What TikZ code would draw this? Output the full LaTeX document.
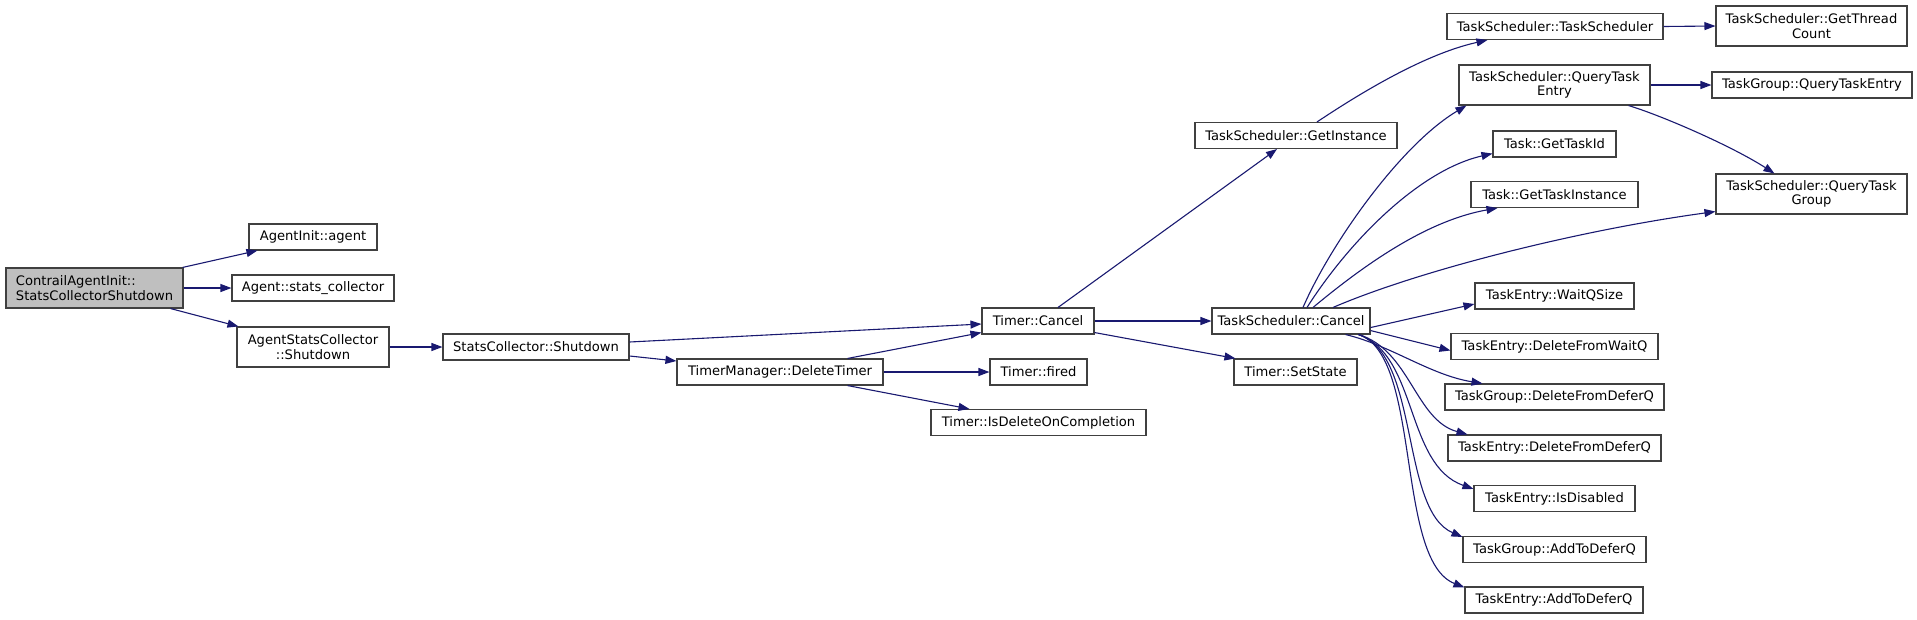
\documentclass[tikz,border=0pt]{standalone}
\usepackage{fontspec}
\setmainfont{DejaVu Sans}
\usetikzlibrary{arrows.meta}
\definecolor{edgeblue}{HTML}{191970}
\definecolor{boxline}{HTML}{404040}
\definecolor{rootfill}{HTML}{BFBFBF}
\tikzset{
  fn/.style={draw=boxline, line width=1.1pt, fill=white, inner sep=0pt, minimum height=26pt,
    font=\fontsize{13.1}{14.5}\selectfont, align=center},
  fn2/.style={fn, minimum height=40pt},
  call/.style={draw=edgeblue, line width=1.1pt, -{Triangle[length=11pt,width=8pt]}}
}
\begin{document}
\begin{tikzpicture}[x=1pt,y=-1pt]
\useasboundingbox (0,0) rectangle (1917,619);
% nodes
\node[fn2, fill=rootfill, minimum width=177pt, align=left] (root) at (94.5,288) {ContrailAgentInit::\\StatsCollectorShutdown};
\node[fn, minimum width=128pt] (agent) at (313,237) {AgentInit::agent};
\node[fn, minimum width=162pt] (statscol) at (313,288) {Agent::stats\_collector};
\node[fn2, minimum width=152pt] (ascshut) at (313,347) {AgentStatsCollector\\::Shutdown};
\node[fn, minimum width=186pt] (scshut) at (536,347) {StatsCollector::Shutdown};
\node[fn, minimum width=206pt] (delt) at (780,372) {TimerManager::DeleteTimer};
\node[fn, minimum width=112pt] (tcancel) at (1038,321) {Timer::Cancel};
\node[fn, minimum width=97pt] (fired) at (1038.5,372) {Timer::fired};
\node[fn, minimum width=215pt] (isdel) at (1038.5,422.5) {Timer::IsDeleteOnCompletion};
\node[fn, minimum width=202pt] (getinst) at (1296,135.5) {TaskScheduler::GetInstance};
\node[fn, minimum width=158pt] (tscancel) at (1291,321) {TaskScheduler::Cancel};
\node[fn, minimum width=123pt] (setstate) at (1295.5,372) {Timer::SetState};
\node[fn, minimum width=216pt] (tsts) at (1555,26.5) {TaskScheduler::TaskScheduler};
\node[fn2, minimum width=191pt] (gtc) at (1811.5,26) {TaskScheduler::GetThread\\Count};
\node[fn2, minimum width=191pt] (qte) at (1554.5,85) {TaskScheduler::QueryTask\\Entry};
\node[fn, minimum width=200pt] (tgqte) at (1812,85) {TaskGroup::QueryTaskEntry};
\node[fn, minimum width=123pt] (gtid) at (1554.5,144) {Task::GetTaskId};
\node[fn, minimum width=167pt] (gtinst) at (1554.5,194.5) {Task::GetTaskInstance};
\node[fn2, minimum width=191pt] (qtg) at (1811.5,194) {TaskScheduler::QueryTask\\Group};
\node[fn, minimum width=159pt] (wqs) at (1554.5,296) {TaskEntry::WaitQSize};
\node[fn, minimum width=207pt] (dfwq) at (1554.5,346.5) {TaskEntry::DeleteFromWaitQ};
\node[fn, minimum width=219pt] (tgdfd) at (1554.5,397) {TaskGroup::DeleteFromDeferQ};
\node[fn, minimum width=213pt] (tedfd) at (1554.5,448) {TaskEntry::DeleteFromDeferQ};
\node[fn, minimum width=161pt] (isdis) at (1554.5,498.5) {TaskEntry::IsDisabled};
\node[fn, minimum width=183pt] (tgadd) at (1554.5,549.5) {TaskGroup::AddToDeferQ};
\node[fn, minimum width=178pt] (teadd) at (1554,600) {TaskEntry::AddToDeferQ};
% edges
\draw[call] ([xshift=-1pt]root.north east) -- ([xshift=9pt]agent.south west);
\draw[call] (root.east) -- (statscol.west);
\draw[call] ([xshift=-13pt]root.south east) -- ([xshift=2pt]ascshut.north west);
\draw[call] (ascshut.east) -- (scshut.west);
\draw[call] ([yshift=5pt]scshut.east) -- ([yshift=-3pt]tcancel.west);
\draw[call] ([yshift=-9pt]scshut.east) -- ([yshift=11pt]delt.west);
\draw[call] ([xshift=-36pt]delt.north east) -- ([yshift=2pt]tcancel.south west);
\draw[call] (delt.east) -- (fired.west);
\draw[call] ([xshift=-36pt]delt.south east) -- ([xshift=39pt]isdel.north west);
\draw[call] ([xshift=20pt]tcancel.north) -- ([xshift=-19pt]getinst.south);
\draw[call] (tcancel.east) -- (tscancel.west);
\draw[call] ([yshift=2pt]tcancel.south east) -- ([xshift=2pt]setstate.north west);
\draw[call] ([xshift=21pt]getinst.north) .. controls (1350,100) and (1420,55) .. ([xshift=41pt]tsts.south west);
\draw[call] (tsts.east) -- (gtc.west);
\draw[call] (qte.east) -- (tgqte.west);
\draw[call] ([xshift=-22pt]qte.south east) .. controls (1660,115) and (1730,145) .. ([xshift=59pt]qtg.north west);
\draw[call] ([xshift=12pt]tscancel.north) .. controls (1330,245) and (1400,145) .. ([xshift=8pt]qte.south west);
\draw[call] ([xshift=16pt]tscancel.north) .. controls (1350,240) and (1420,170) .. ([yshift=4pt]gtid.south west);
\draw[call] ([xshift=22pt]tscancel.north) .. controls (1370,260) and (1430,220) .. ([xshift=27pt]gtinst.south west);
\draw[call] ([xshift=42pt]tscancel.north) .. controls (1420,270) and (1580,230) .. ([yshift=3pt]qtg.south west);
\draw[call] ([yshift=7pt]tscancel.south east) -- ([yshift=-8pt]wqs.west);
\draw[call] ([yshift=4pt]tscancel.south east) -- ([yshift=-4pt]dfwq.west);
\draw[call] ([xshift=-25pt]tscancel.south east) .. controls (1390,345) and (1430,375) .. ([xshift=38pt]tgdfd.north west);
\draw[call] ([xshift=-12pt]tscancel.south east) .. controls (1410,350) and (1415,420) .. ([xshift=20pt]tedfd.north west);
\draw[call] ([xshift=-12pt]tscancel.south east) .. controls (1418,355) and (1405,465) .. ([yshift=-4pt]isdis.north west);
\draw[call] ([xshift=-12pt]tscancel.south east) .. controls (1420,355) and (1400,510) .. ([yshift=-1pt]tgadd.north west);
\draw[call] ([xshift=-12pt]tscancel.south east) .. controls (1422,355) and (1395,560) .. ([yshift=-1pt]teadd.north west);
\end{tikzpicture}
\end{document}
